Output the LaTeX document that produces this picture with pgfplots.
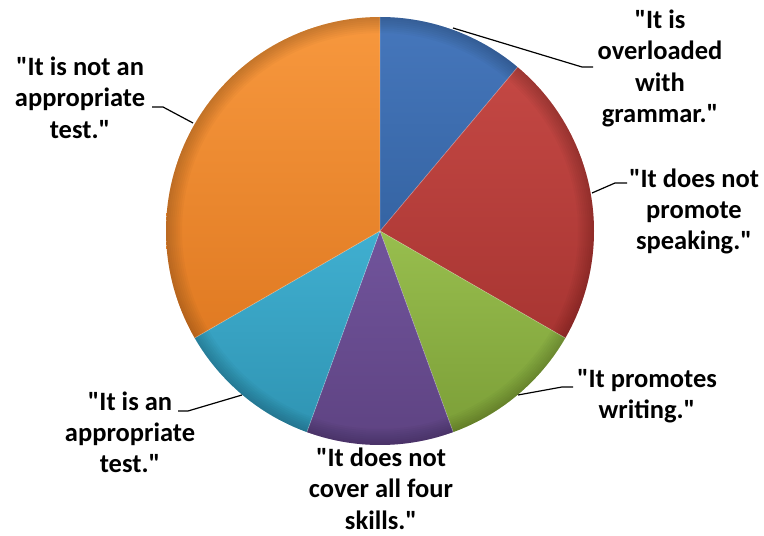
\documentclass[border=0pt]{standalone}
\usepackage{pgfplots}
\pgfplotsset{compat=1.18}
\usepackage{fontspec}
\newfontfamily\labfont{Carlito}
\definecolor{bluT}{HTML}{4677BC}\definecolor{bluB}{HTML}{3564A3}
\definecolor{redT}{HTML}{C44844}\definecolor{redB}{HTML}{A83532}
\definecolor{grnT}{HTML}{98BE4E}\definecolor{grnB}{HTML}{7C9F38}
\definecolor{purT}{HTML}{71549C}\definecolor{purB}{HTML}{5E4382}
\definecolor{teaT}{HTML}{40AFD0}\definecolor{teaB}{HTML}{2F94B3}
\definecolor{oraT}{HTML}{F7983E}\definecolor{oraB}{HTML}{E07A22}
\newcommand\lbl[3]{\node[anchor=base,inner sep=0pt,font=\labfont\bfseries\fontsize{26.5}{32}\selectfont] at (axis cs:#1,#2) {#3};}
\begin{document}
\begin{tikzpicture}
\begin{axis}[width=764pt,height=536pt,scale only axis,
  xmin=0,xmax=764,ymin=0,ymax=536,hide axis,clip=false]
% slices: counts 1,2,1,1,1,3 of 9 -> 40,80,40,40,40,120 degrees, clockwise from 12 o'clock
\addplot[draw=none,top color=bluT,bottom color=bluB,domain=0:40,samples=41,variable=\t]
  ({380+214*sin(t)},{305+214*cos(t)}) -- (axis cs:380,305) -- cycle;
\addplot[draw=none,top color=redT,bottom color=redB,domain=40:120,samples=81,variable=\t]
  ({380+214*sin(t)},{305+214*cos(t)}) -- (axis cs:380,305) -- cycle;
\addplot[draw=none,top color=grnT,bottom color=grnB,domain=120:160,samples=41,variable=\t]
  ({380+214*sin(t)},{305+214*cos(t)}) -- (axis cs:380,305) -- cycle;
\addplot[draw=none,top color=purT,bottom color=purB,domain=160:200,samples=41,variable=\t]
  ({380+214*sin(t)},{305+214*cos(t)}) -- (axis cs:380,305) -- cycle;
\addplot[draw=none,top color=teaT,bottom color=teaB,domain=200:240,samples=41,variable=\t]
  ({380+214*sin(t)},{305+214*cos(t)}) -- (axis cs:380,305) -- cycle;
\addplot[draw=none,top color=oraT,bottom color=oraB,domain=240:360,samples=121,variable=\t]
  ({380+214*sin(t)},{305+214*cos(t)}) -- (axis cs:380,305) -- cycle;
% rim shading (soft darkening toward the edge)
\foreach \w in {16,14,12,10,8,6,4,2}{
  \edef\tmp{\noexpand\addplot[draw=black,draw opacity=0.025,line width=\w pt,domain=0:360,samples=181,variable=\noexpand\t]
  ({380+(214-\w/2)*sin(t)},{305+(214-\w/2)*cos(t)});}\tmp
}
% slice borders
\addplot[draw=white,draw opacity=0.25,line width=0.8pt] coordinates {(380,519) (380,305) (517.6,468.9)};
\addplot[draw=white,draw opacity=0.25,line width=0.8pt] coordinates {(380,305) (565.3,198)};
\addplot[draw=white,draw opacity=0.25,line width=0.8pt] coordinates {(453.2,103.9) (380,305) (306.8,103.9)};
\addplot[draw=white,draw opacity=0.25,line width=0.8pt] coordinates {(380,305) (194.7,198)};
% leader lines
\addplot[black,line width=1.2pt,line join=round] coordinates {(453,508) (582,469) (593,469)};
\addplot[black,line width=1.2pt,line join=round] coordinates {(592,343) (615,353) (627,353)};
\addplot[black,line width=1.2pt,line join=round] coordinates {(518,141) (562,149) (573,149)};
\addplot[black,line width=1.2pt,line join=round] coordinates {(242,141) (188,125) (178,125)};
\addplot[black,line width=1.2pt,line join=round] coordinates {(193,413) (163,429) (152,429)};
% labels
\lbl{660}{507.5}{"It is}
\lbl{660}{476.2}{overloaded}
\lbl{660}{444.9}{with}
\lbl{660}{413.6}{grammar."}
\lbl{694}{348}{"It does not}
\lbl{694}{317}{promote}
\lbl{694}{286}{speaking."}
\lbl{647}{148}{"It promotes}
\lbl{647}{117}{writing."}
\lbl{381}{69}{"It does not}
\lbl{381}{38}{cover all four}
\lbl{381}{6}{skills."}
\lbl{130}{125}{"It is an}
\lbl{130}{94}{appropriate}
\lbl{130}{63}{test."}
\lbl{80}{460}{"It is not an}
\lbl{80}{429}{appropriate}
\lbl{80}{397}{test."}
\end{axis}
\pgfresetboundingbox
\path (current axis.south west) rectangle (current axis.north east);
\end{tikzpicture}
\end{document}
